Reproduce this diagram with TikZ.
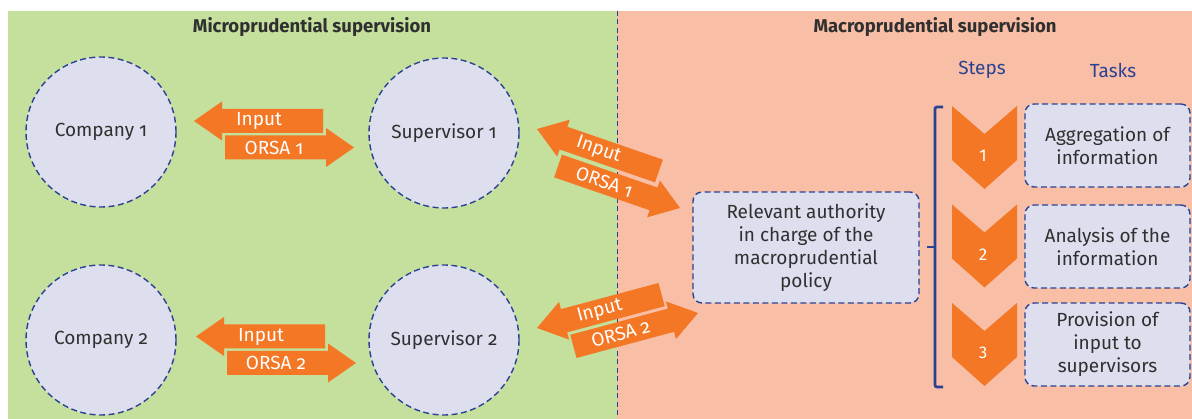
\documentclass[tikz,border=0pt]{standalone}
\usepackage{fontspec}
\setmainfont[Numbers=OldStyle]{Fira Sans}
\newfontfamily\stepfont[Numbers=Lining]{Fira Sans}
\usepackage{tikz}
\definecolor{mgreen}{RGB}{197,223,156}
\definecolor{msalmon}{RGB}{249,190,166}
\definecolor{morange}{RGB}{243,119,36}
\definecolor{mlilac}{RGB}{222,223,238}
\definecolor{mblue}{RGB}{42,66,148}
\definecolor{mtext}{RGB}{48,48,48}
\tikzset{entity/.style = {circle, draw = mblue, fill = mlilac, line width = 1.4pt,
    dash pattern = on 6pt off 3.5pt, minimum size = 150pt, inner sep = 0,
    text = mtext, font = \fontsize{19}{23}\selectfont}}
\tikzset{taskbox/.style = {rectangle, rounded corners = 9pt, draw = mblue, fill = mlilac,
    line width = 1.4pt, dash pattern = on 6pt off 3.5pt, align = center, inner sep = 0,
    text = mtext, font = \fontsize{19}{23}\selectfont}}
\tikzset{flowtext/.style = {text = white, font = \fontsize{19}{22}\selectfont, inner sep = 0}}
\tikzset{heading/.style = {font = \bfseries\fontsize{18.5}{22}\selectfont, text = mtext, anchor = base}}
\tikzset{colhead/.style = {font = \fontsize{19}{22}\selectfont, text = mblue}}
% name, tip, direction, text angle, text offset, text
\newcommand{\flowarrow}[6]{
  \begin{scope}[shift = {#2}, rotate = #3]
    \fill [morange] (0, 0) -- (-28, -19.5) -- (-28, -12) -- (-129, -12) -- (-129, 12)
      -- (-28, 12) -- (-28, 19.5) -- cycle;
    \node [flowtext, rotate = #4] (#1) at (#5, 0) {#6};
  \end{scope}
}

\begin{document}
\begin{tikzpicture}[x = 1pt, y = -1pt]
      \useasboundingbox (0, 0) rectangle (1192, 419);
      \fill [mgreen] (8, 11) rectangle (617, 419);
      \fill [msalmon] (617, 11) rectangle (1192, 419);
      \draw [mblue, line width = 1pt, dash pattern = on 5pt off 3.5pt] (617, 11) -- (617, 419);

      \node [heading] (microtitle) at (312, 33) {Microprudential supervision};
      \node [heading] (macrotitle) at (935, 33) {Macroprudential supervision};

      \node [entity] (company1) at (101, 132) {Company 1};
      \node [entity] (supervisor1) at (444, 133) {Supervisor 1};
      \node [entity] (company2) at (101, 340) {Company 2};
      \node [entity] (supervisor2) at (444, 340) {Supervisor 2};

      \flowarrow{input1}{(194, 121)}{180}{0}{-65}{Input}
      \flowarrow{orsa1}{(354, 147.5)}{0}{0}{-80}{ORSA 1}
      \flowarrow{input2}{(196, 336.5)}{180}{0}{-65}{Input}
      \flowarrow{orsa2}{(356, 363)}{0}{0}{-80}{ORSA 2}

      \flowarrow{input3}{(537, 129)}{161}{-19}{-65}{Input}
      \flowarrow{orsa3}{(680, 208)}{-19}{-19}{-80}{ORSA 1}
      \flowarrow{input4}{(537, 328)}{195}{15}{-65}{Input}
      \flowarrow{orsa4}{(698, 313)}{15}{15}{-80}{ORSA 2}

      \node [taskbox, minimum width = 226pt, minimum height = 111pt] (authority) at (806, 247.5)
        {Relevant authority\\in charge of the\\macroprudential\\policy};

      \node [colhead] (steps) at (982, 70) {Steps};
      \node [colhead] (tasks) at (1113, 70) {Tasks};

      \draw [mblue, line width = 2.7pt, rounded corners = 2pt] (943, 107) -- (935, 107) -- (935, 387) -- (943, 387);
      \draw [mblue, line width = 2.7pt] (935, 247) -- (927, 247);

      \foreach \n/\y in {1/106, 2/204.5, 3/303} {
        \fill [morange] (952, \y) -- (984.5, \y + 28) -- (1017, \y) -- (1017, \y + 54)
          -- (984.5, \y + 83) -- (952, \y + 54) -- cycle;
        \node [text = white, font = \stepfont\fontsize{17}{20}\selectfont] (step\n) at (983, \y + 50) {\n};
      }

      \node [taskbox, minimum width = 165pt, minimum height = 83pt] (task1) at (1107.5, 145.5)
        {Aggregation of\\information};
      \node [taskbox, minimum width = 165pt, minimum height = 83pt] (task2) at (1107.5, 246.5)
        {Analysis of the\\information};
      \node [taskbox, minimum width = 165pt, minimum height = 83pt] (task3) at (1107.5, 344.5)
        {Provision of\\input to\\supervisors};
    \end{tikzpicture}
\end{document}
